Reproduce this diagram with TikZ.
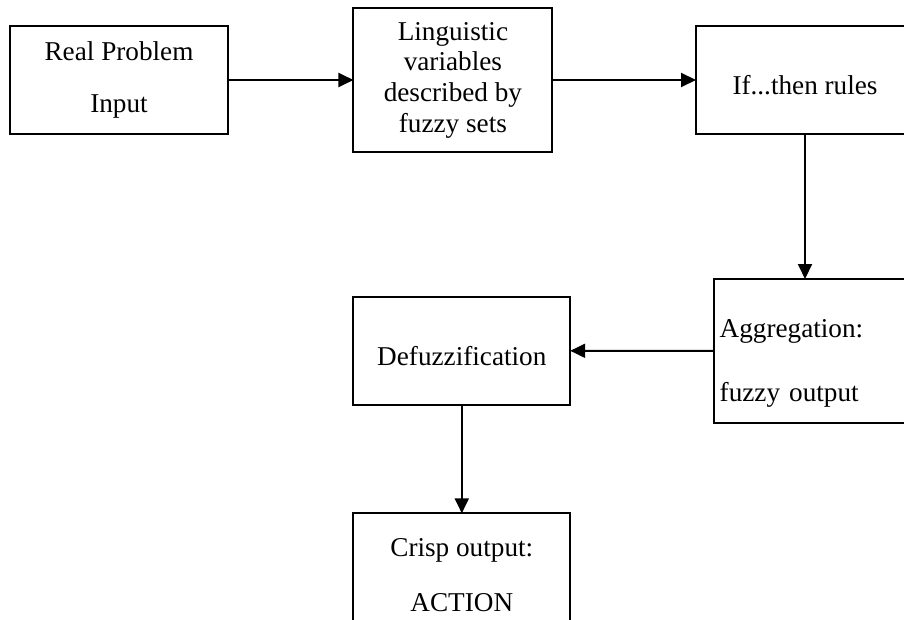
\documentclass[tikz,border=0pt]{standalone}
\usepackage{fontspec}
\setmainfont{Liberation Serif}
\usetikzlibrary{arrows.meta}
\begin{document}
\begin{tikzpicture}[x=1pt,y=-1pt,
  box/.style={draw, line width=2pt, inner sep=0pt, outer sep=0pt,
    font=\fontsize{27.2}{30.7}\selectfont, align=center},
  arr/.style={line width=2pt, -{Triangle[length=15pt,width=14pt]}}]
\useasboundingbox (0,0) rectangle (904,620);
\clip (0,0) rectangle (904,620);
\node[box, minimum width=217.3pt, minimum height=108.7pt] (in) at (119,80)
  {Real Problem\\[21.3pt]Input};
\node[box, minimum width=198.9pt, minimum height=144.3pt] (ling) at (452.9,80)
  {Linguistic\\variables\\described by\\fuzzy sets};
\node[box, minimum width=218pt, minimum height=108.7pt] (rules) at (805,80)
  {\rule{0pt}{28.6pt}If...then rules};
\node[box, minimum width=200pt, minimum height=143.7pt, text width=188.6pt, align=left] (agg) at (814,350.85)
  {\rule{0pt}{43pt}Aggregation:\\[32.7pt]fuzzy output};
\node[box, minimum width=216.8pt, minimum height=108.4pt] (defuzz) at (461.8,350.8)
  {\rule{0pt}{29.8pt}Defuzzification};
\node[box, minimum width=216.8pt, minimum height=123.4pt] (crisp) at (461.8,575)
  {Crisp output:\\[24.3pt]ACTION};
\draw[arr] (in.east) -- (ling.west);
\draw[arr] (ling.east) -- (rules.west);
\draw[arr] (rules.south) -- (rules.south |- agg.north);
\draw[arr] (agg.west) -- (defuzz.east);
\draw[arr] (defuzz.south) -- (crisp.north);
\end{tikzpicture}
\end{document}
